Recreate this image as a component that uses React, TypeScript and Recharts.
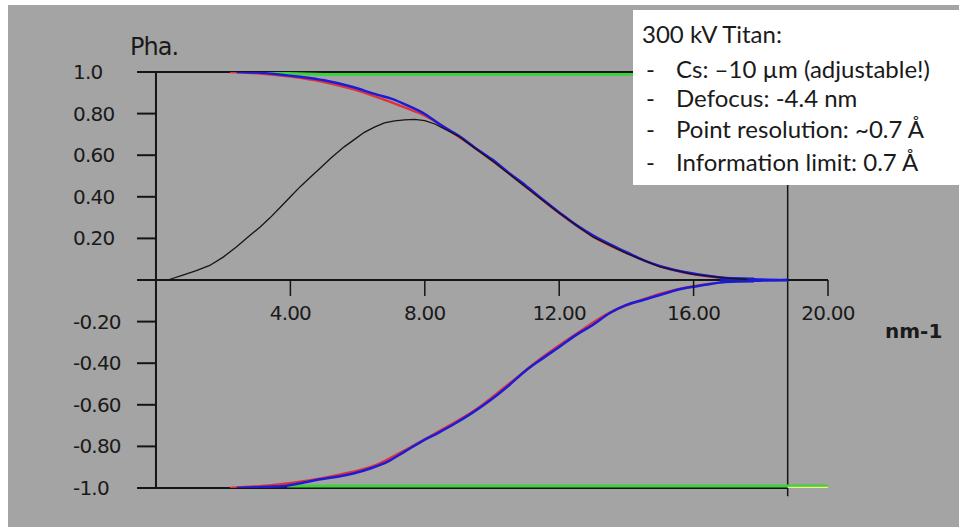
import React from 'react';
import { LineChart, Line, XAxis, YAxis, ReferenceLine } from 'recharts';

// axis ticks
const xTicks = [4, 8, 12, 16, 20];
const xTickLabels = ['4.00', '8.00', '12.00', '16.00', '20.00'];
const yTicks = [1, 0.8, 0.6, 0.4, 0.2, -0.2, -0.4, -0.6, -0.8, -1];
const yTickLabels = ['1.0', '0.80', '0.60', '0.40', '0.20', '-0.20', '-0.40', '-0.60', '-0.80', '-1.0'];

// upper / lower envelope (blue)
const envX = [2.4, 3.0, 3.8, 4.4, 5.0, 5.8, 6.6, 7.0, 7.5, 8.0, 8.5, 9.0, 9.5, 10.0, 10.5, 11.0, 11.5, 12.0, 12.5, 13.0, 13.5, 14.0, 14.5, 15.2, 16.2, 16.8, 17.8, 18.8];
const upperBlue = [1.0, 0.997, 0.986, 0.975, 0.96, 0.93, 0.89, 0.872, 0.838, 0.798, 0.742, 0.695, 0.635, 0.58, 0.515, 0.455, 0.388, 0.325, 0.265, 0.215, 0.172, 0.134, 0.096, 0.058, 0.025, 0.012, 0.004, 0];

const lowerX = [2.4, 3.4, 3.9, 4.4, 4.9, 5.4, 5.9, 6.4, 6.9, 7.4, 7.9, 8.4, 8.9, 9.4, 10.0, 10.5, 11.0, 11.5, 12.0, 12.5, 13.0, 13.5, 14.0, 14.5, 15.0, 15.5, 16.0, 16.5, 16.8, 17.8, 18.8];
const lowerBlue = [-1.0, -0.994, -0.989, -0.974, -0.958, -0.946, -0.929, -0.905, -0.873, -0.825, -0.777, -0.735, -0.69, -0.64, -0.572, -0.507, -0.436, -0.378, -0.322, -0.265, -0.216, -0.16, -0.12, -0.096, -0.072, -0.048, -0.032, -0.019, -0.012, -0.004, 0];

// red traces sitting just under the blue ones
const redUpX = [2.2, 3.0, 4.0, 5.0, 5.8, 6.6, 7.4, 8.0, 9.0, 10.0, 11.0, 12.0, 13.0, 14.0, 15.0, 16.0, 17.0];
const redUp = [1.0, 0.994, 0.978, 0.952, 0.92, 0.878, 0.83, 0.79, 0.69, 0.575, 0.45, 0.322, 0.21, 0.13, 0.066, 0.028, 0.009];
const redLowX = [2.2, 3.5, 4.5, 5.5, 6.5, 7.5, 8.5, 9.5, 10.5, 11.5, 12.5, 13.5, 14.5, 15.5, 16.5];
const redLow = [-1.0, -0.985, -0.965, -0.935, -0.893, -0.81, -0.72, -0.625, -0.5, -0.372, -0.26, -0.157, -0.093, -0.046, -0.018];

// phase contrast transfer (black)
const ctfX = [0.35, 0.8, 1.2, 1.6, 2.0, 2.4, 2.8, 3.1, 3.4, 3.7, 4.0, 4.3, 4.6, 4.9, 5.2, 5.6, 5.9, 6.2, 6.5, 6.8, 7.1, 7.4, 7.7, 8.0, 8.3, 9.0, 10.0, 11.0, 12.0, 13.0, 14.0, 15.0, 16.0, 17.0, 17.6];
const ctfBlack = [0, 0.024, 0.045, 0.07, 0.11, 0.16, 0.215, 0.255, 0.3, 0.35, 0.4, 0.45, 0.495, 0.54, 0.585, 0.64, 0.675, 0.71, 0.735, 0.755, 0.765, 0.77, 0.772, 0.766, 0.75, 0.692, 0.574, 0.447, 0.322, 0.207, 0.128, 0.063, 0.027, 0.009, 0.003];

// converged tail on the zero line
const tailX = [16.8, 17.8];
const tailY = [0, 0];

// flat limits
const greenTopX = [3.2, 5.0, 18.8];
const greenTop = [0.996, 0.988, 0.988];
const greenLowX = [3.9, 20];
const greenLow = [-0.99, -0.99];
const yellowX = [18.8, 20];
const yellowY = [-1, -1];

const zip = (xs: number[], ys: number[]) => xs.map((x, i) => ({ x, y: ys[i] }));

const FRAME_L = -0.565;
const FRAME_R = 18.8;
const PLOT_TOP = 72;
const PLOT_H = 416;
const ZERO_Y = PLOT_TOP + PLOT_H / 2;
const INK = '#151515';
const TICK_FONT = { fontFamily: 'DejaVu Sans', fontSize: 20, fill: '#1a1a1a', letterSpacing: -0.8 };

function YTick(props: any) {
  const { y, payload } = props;
  const label = yTickLabels[yTicks.indexOf(payload.value)];
  return (
    <g>
      <line x1={137} x2={156} y1={y} y2={y} stroke={INK} strokeWidth={2} />
      <text x={73} y={y + 7} textAnchor="start" {...TICK_FONT}>{label}</text>
    </g>
  );
}

function XTick(props: any) {
  const { x, payload } = props;
  const label = xTickLabels[xTicks.indexOf(payload.value)];
  return (
    <g>
      <line x1={x} x2={x} y1={ZERO_Y} y2={ZERO_Y + 16} stroke={INK} strokeWidth={1.5} />
      <text x={x} y={ZERO_Y + 40} textAnchor="middle" {...TICK_FONT}>{label}</text>
    </g>
  );
}

const boxFont = { fontFamily: 'Lato', fontSize: 24, fill: '#1a1a1a' };
const boxLines = ['Cs: \u201310 \u00b5m (adjustable!)', 'Defocus: -4.4 nm', 'Point resolution: ~0.7 \u00c5', 'Information limit: 0.7 \u00c5'];
const boxBaselines = [78, 107, 138, 171];

export default function App() {
  return (
    <div style={{ position: 'absolute', left: 0, top: 0, width: 959, height: 531, background: '#fff', overflow: 'hidden' }}>
      <div style={{ position: 'absolute', left: 8, top: 5, width: 951, height: 522, background: '#a4a4a4' }} />
      <div style={{ position: 'absolute', left: 0, top: 0 }}>
        <LineChart width={959} height={531} margin={{ top: PLOT_TOP, right: 131, bottom: 0, left: 0 }}>
          <XAxis dataKey="x" type="number" domain={[FRAME_L, 20]} allowDataOverflow ticks={xTicks} height={43}
            axisLine={false} tickLine={false} tick={<XTick />} interval={0} />
          <YAxis type="number" domain={[-1, 1]} allowDataOverflow ticks={yTicks} width={137}
            axisLine={false} tickLine={false} tick={<YTick />} interval={0} />
          <ReferenceLine segment={[{ x: FRAME_L, y: 1 }, { x: FRAME_R, y: 1 }]} stroke={INK} strokeWidth={2} />
          <ReferenceLine segment={[{ x: FRAME_L, y: 0 }, { x: 20, y: 0 }]} stroke={INK} strokeWidth={2} />
          <ReferenceLine segment={[{ x: FRAME_L, y: -1 }, { x: FRAME_R, y: -1 }]} stroke={INK} strokeWidth={2} />
          <ReferenceLine segment={[{ x: 0, y: 1 }, { x: 0, y: -1 }]} stroke={INK} strokeWidth={2} />
          <ReferenceLine segment={[{ x: FRAME_R, y: 1 }, { x: FRAME_R, y: -1.04 }]} stroke={INK} strokeWidth={1.5} ifOverflow="visible" />
          <Line data={zip(greenTopX, greenTop)} dataKey="y" stroke="#3fd03f" strokeWidth={3} dot={false} isAnimationActive={false} />
          <Line data={zip(greenLowX, greenLow)} dataKey="y" stroke="#3fd03f" strokeWidth={3} dot={false} isAnimationActive={false} />
          <Line data={zip(yellowX, yellowY)} dataKey="y" stroke="#f2f07a" strokeWidth={2.5} dot={false} isAnimationActive={false} />
          <Line data={zip(redUpX, redUp)} dataKey="y" type="monotone" stroke="#e0303a" strokeWidth={2.5} dot={false} isAnimationActive={false} />
          <Line data={zip(redLowX, redLow)} dataKey="y" type="monotone" stroke="#e0303a" strokeWidth={2.5} dot={false} isAnimationActive={false} />
          <Line data={zip(envX, upperBlue)} dataKey="y" type="monotone" stroke="#1c1cd8" strokeWidth={2.5} dot={false} isAnimationActive={false} />
          <Line data={zip(lowerX, lowerBlue)} dataKey="y" type="monotone" stroke="#1c1cd8" strokeWidth={2.5} dot={false} isAnimationActive={false} />
          <Line data={zip(tailX, tailY)} dataKey="y" stroke="#1c1cc0" strokeWidth={5} dot={false} isAnimationActive={false} />
          <Line data={zip(ctfX, ctfBlack)} dataKey="y" stroke={INK} strokeWidth={1.3} dot={false} isAnimationActive={false} />
        </LineChart>
      </div>
      <svg width={959} height={531} style={{ position: 'absolute', left: 0, top: 0 }}>
        <text x={130} y={55} fontFamily="DejaVu Sans" fontSize={24} fill="#1a1a1a" letterSpacing={-1}>Pha.</text>
        <text x={885} y={338} fontFamily="DejaVu Sans" fontWeight="bold" fontSize={20} fill="#1a1a1a">nm-1</text>
        <rect x={633} y={10} width={330} height={175} fill="#ffffff" />
        <text x={642} y={43} {...boxFont}>300 kV Titan:</text>
        {boxLines.map((t, i) => (
          <g key={t}>
            <text x={646} y={boxBaselines[i]} {...boxFont}>-</text>
            <text x={676} y={boxBaselines[i]} {...boxFont}>{t}</text>
          </g>
        ))}
      </svg>
    </div>
  );
}
